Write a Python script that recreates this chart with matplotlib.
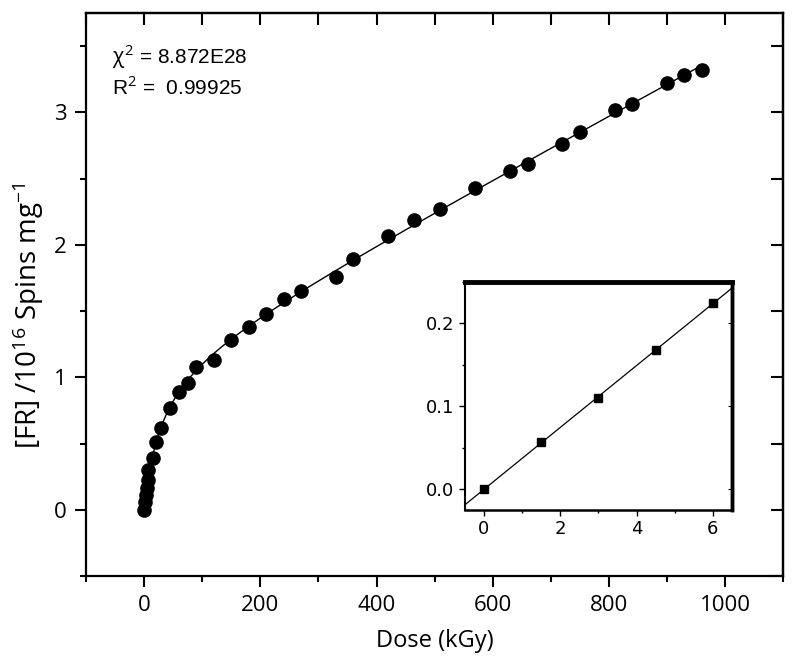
import numpy as np
import matplotlib
matplotlib.use('Agg')
import matplotlib.pyplot as plt
from matplotlib.ticker import MultipleLocator

# main data: dose (kGy) vs free radical concentration (1e16 spins/mg)
dose = [0, 1.5, 3, 4.5, 6, 7.5, 15, 21, 29, 45, 60, 75, 90, 120, 150, 180,
        210, 240, 270, 330, 360, 420, 465, 510, 570, 630, 660, 720, 750,
        810, 840, 900, 930, 960]
fr = [0.0, 0.056, 0.11, 0.168, 0.225, 0.30, 0.39, 0.51, 0.62, 0.77, 0.89,
      0.955, 1.075, 1.13, 1.28, 1.38, 1.48, 1.59, 1.65, 1.76, 1.89, 2.07,
      2.19, 2.27, 2.43, 2.56, 2.61, 2.76, 2.85, 3.02, 3.06, 3.22, 3.28, 3.32]

# inset: low dose region
dose_low = [0, 1.5, 3, 4.5, 6]
fr_low = [0.0, 0.0565, 0.1105, 0.168, 0.2245]

chi_text = r'$\chi^2$ = 8.872E28'
r_text = r'R$^2$ =  0.99925'

plt.rcParams['font.family'] = ['Open Sans', 'DejaVu Sans']
plt.rcParams['mathtext.fontset'] = 'custom'
plt.rcParams['mathtext.rm'] = 'Open Sans'
plt.rcParams['mathtext.it'] = 'Open Sans'

x = np.array(dose)
y = np.array(fr)

# fit: saturating term + linear term, pick the best shape over a grid
def basis(xx, c, kind):
    if kind == 'exp':
        return 1 - np.exp(-xx / c)
    return xx / (c + xx)

best = None
for kind in ['exp', 'hyp']:
    for c in np.linspace(2, 400, 2000):
        A = np.column_stack([basis(x, c, kind), x])
        coef = np.linalg.lstsq(A, y, rcond=None)[0]
        err = np.sum((A @ coef - y) ** 2)
        if best is None or err < best[0]:
            best = (err, c, kind, coef)
err, c, kind, coef = best
xf = np.linspace(0, 960, 800)
yf = coef[0] * basis(xf, c, kind) + coef[1] * xf

fig = plt.figure(figsize=(8, 6.71), dpi=100)
ax = fig.add_axes([0.1075, 0.1416, 0.8715, 0.839])

ax.plot(xf, yf, color='black', lw=1.0, zorder=2)
ax.plot(dose, fr, 'o', color='black', markersize=9.5, zorder=3)

ax.set_xlim(-100, 1100)
ax.set_ylim(-0.5, 3.75)
ax.xaxis.set_major_locator(MultipleLocator(200))
ax.xaxis.set_minor_locator(MultipleLocator(100))
ax.yaxis.set_major_locator(MultipleLocator(1))
ax.yaxis.set_minor_locator(MultipleLocator(0.5))
ax.tick_params(which='major', direction='out', length=8, width=1.5, labelsize=16, pad=6)
ax.tick_params(which='minor', direction='out', length=4.5, width=1.5)
for s in ax.spines.values():
    s.set_linewidth(1.6)

top = ax.secondary_xaxis('top')
top.xaxis.set_major_locator(MultipleLocator(100))
top.tick_params(direction='in', length=8.5, width=1.5, labeltop=False)
top.spines['top'].set_linewidth(1.6)
right = ax.secondary_yaxis('right')
right.yaxis.set_major_locator(MultipleLocator(0.5))
right.tick_params(direction='in', length=8.5, width=1.5, labelright=False)
right.spines['right'].set_linewidth(1.6)

ax.set_xlabel('Dose (kGy)', fontsize=17, labelpad=9)
ax.set_ylabel(r'[FR] /10$^{16}$ Spins mg$^{-1}$', fontsize=20)
ax.yaxis.set_label_coords(-0.058, 0.462)

ax.text(0.037, 0.922, chi_text, transform=ax.transAxes, fontsize=15,
        family=['Liberation Sans', 'DejaVu Sans'], va='center')
ax.text(0.037, 0.868, r_text, transform=ax.transAxes, fontsize=15,
        family=['Liberation Sans', 'DejaVu Sans'], va='center')

# inset
ins = fig.add_axes([0.581, 0.240, 0.334, 0.3397])
p = np.polyfit(dose_low, fr_low, 1)
xl = np.linspace(-0.5, 6.5, 50)
ins.plot(xl, np.polyval(p, xl), color='black', lw=0.9)
ins.plot(dose_low, fr_low, 's', color='black', markersize=5.5)
ins.set_xlim(-0.5, 6.5)
ins.set_ylim(-0.025, 0.25)
ins.xaxis.set_major_locator(MultipleLocator(2))
ins.xaxis.set_minor_locator(MultipleLocator(1))
ins.yaxis.set_major_locator(MultipleLocator(0.1))
ins.yaxis.set_minor_locator(MultipleLocator(0.05))
ins.yaxis.set_major_formatter(matplotlib.ticker.FormatStrFormatter('%.1f'))
ins.tick_params(which='major', direction='out', length=4, width=1.0, labelsize=13)
ins.tick_params(which='minor', direction='out', length=2.5, width=1.0)
for lab in ins.get_xticklabels() + ins.get_yticklabels():
    lab.set_family(['Liberation Sans Narrow', 'DejaVu Sans'])
ins.spines['left'].set_linewidth(1.5)
ins.spines['bottom'].set_linewidth(1.8)
ins.spines['top'].set_linewidth(3.5)
ins.spines['right'].set_linewidth(2.5)

ins_r = ins.secondary_yaxis('right')
ins_r.yaxis.set_major_locator(MultipleLocator(0.1))
ins_r.tick_params(direction='in', length=3, width=0.8, labelright=False)
ins_r.spines['right'].set_linewidth(2.5)

fig.savefig('out.png', dpi=100)
